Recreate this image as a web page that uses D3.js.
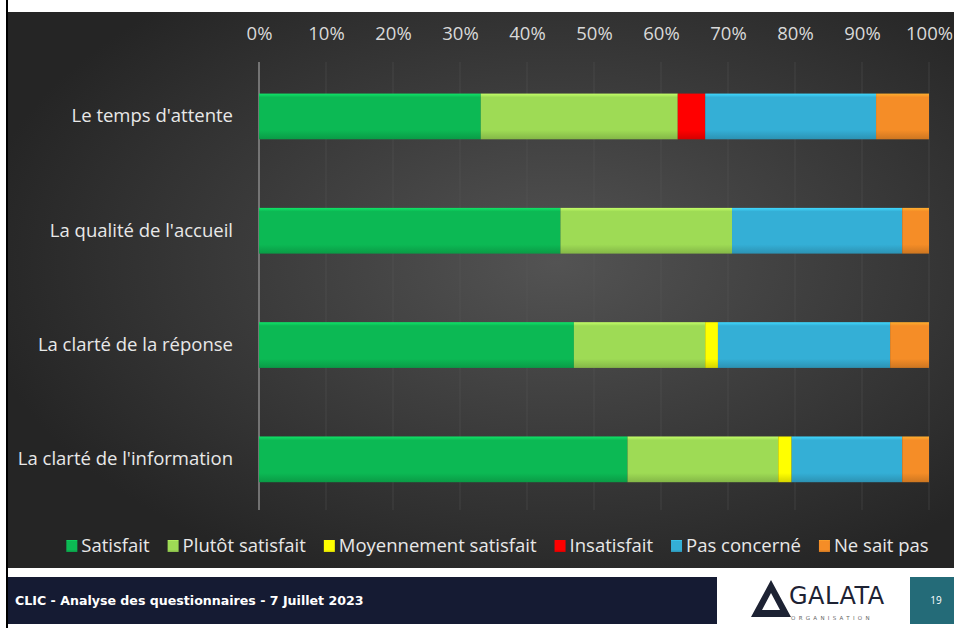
<!DOCTYPE html>
<html>
<head>
<meta charset="utf-8">
<script src="https://cdn.jsdelivr.net/npm/d3@7"></script>
<style>
  html, body { margin: 0; padding: 0; background: #ffffff; }
  svg { display: block; }
</style>
</head>
<body>
<svg id="chart" width="954" height="628"></svg>
<script>
// categories (top to bottom) and legend labels
var categories = ["Le temps d'attente", "La qualité de l'accueil", "La clarté de la réponse", "La clarté de l'information"];
var seriesNames = ["Satisfait", "Plutôt satisfait", "Moyennement satisfait", "Insatisfait", "Pas concerné", "Ne sait pas"];

// percentages per category
var satisfait   = [33.1, 45.0, 47.0, 55.0];
var plutot      = [29.4, 25.6, 19.6, 22.5];
var moyennement = [0, 0, 1.9, 2.0];
var insatisfait = [4.1, 0, 0, 0];
var pasConcerne = [25.5, 25.4, 25.7, 16.5];
var neSaitPas   = [7.9, 4.0, 5.8, 4.0];

var tickValues = [0, 10, 20, 30, 40, 50, 60, 70, 80, 90, 100];

var seriesColors = ["#0cb954", "#9edb55", "#ffff00", "#ff0000", "#34afd6", "#f58d27"];
var font = "'Open Sans', 'Noto Sans', sans-serif";

// build the table the stack layout needs
var allSeries = [satisfait, plutot, moyennement, insatisfait, pasConcerne, neSaitPas];
var table = categories.map(function (c, i) {
  var row = { cat: c };
  seriesNames.forEach(function (s, j) { row[s] = allSeries[j][i]; });
  return row;
});
var stacked = d3.stack().keys(seriesNames)(table);

var svg = d3.select("#chart");
var defs = svg.append("defs");

// dark slide background
var bg = defs.append("radialGradient").attr("id", "bg")
  .attr("cx", "58%").attr("cy", "45%").attr("r", "62%");
bg.append("stop").attr("offset", "0%").attr("stop-color", "#535353");
bg.append("stop").attr("offset", "100%").attr("stop-color", "#252525");

// bar gradients (light top edge, darker bottom)
seriesColors.forEach(function (c, i) {
  var g = defs.append("linearGradient").attr("id", "grad" + i)
    .attr("x1", 0).attr("y1", 0).attr("x2", 0).attr("y2", 1);
  g.append("stop").attr("offset", "0%").attr("stop-color", d3.color(c).brighter(0.6));
  g.append("stop").attr("offset", "8%").attr("stop-color", c);
  g.append("stop").attr("offset", "80%").attr("stop-color", c);
  g.append("stop").attr("offset", "100%").attr("stop-color", d3.color(c).darker(0.5));
});

svg.append("rect").attr("x", 8).attr("y", 12).attr("width", 946).attr("height", 556)
  .attr("fill", "url(#bg)");
svg.append("rect").attr("x", 6).attr("y", 0).attr("width", 2).attr("height", 628)
  .attr("fill", "#000");

// scales
var x = d3.scaleLinear().domain([0, 100]).range([259, 929]);
var y = d3.scaleBand().domain(categories).range([59.3, 516.5])
  .paddingInner(0.6).paddingOuter(0.3);

// gridlines
svg.append("g").selectAll("line")
  .data(tickValues)
  .enter()
  .append("line")
  .attr("x1", function (d) { return x(d); })
  .attr("x2", function (d) { return x(d); })
  .attr("y1", 62)
  .attr("y2", 510)
  .attr("stroke", function (d) { return d === 0 ? "#8a8a8a" : "#5a5a5a"; })
  .attr("stroke-opacity", function (d) { return d === 0 ? 1 : 0.4; })
  .attr("stroke-width", function (d) { return d === 0 ? 1.5 : 1; });

// top axis labels
var xAxis = svg.append("g").attr("transform", "translate(0,40)")
  .call(d3.axisTop(x).tickValues(tickValues).tickSize(0).tickPadding(0)
    .tickFormat(function (d) { return d + "%"; }));
xAxis.select(".domain").remove();
xAxis.selectAll("text")
  .attr("fill", "#d9d9d9")
  .style("font-family", font)
  .style("font-size", "18.5px");

// category labels
var yAxis = svg.append("g").attr("transform", "translate(233,0)")
  .call(d3.axisLeft(y).tickSize(0).tickPadding(0));
yAxis.select(".domain").remove();
yAxis.selectAll("text")
  .attr("fill", "#e8e8e8")
  .style("font-family", font)
  .style("font-size", "18.5px");

// bars
svg.append("g").selectAll("g")
  .data(stacked)
  .enter()
  .append("g")
  .attr("fill", function (d, i) { return "url(#grad" + i + ")"; })
  .selectAll("rect")
  .data(function (d) { return d; })
  .enter()
  .append("rect")
  .attr("x", function (d) { return x(d[0]); })
  .attr("y", function (d) { return y(d.data.cat); })
  .attr("width", function (d) { return x(d[1]) - x(d[0]); })
  .attr("height", y.bandwidth());

// legend
var legend = svg.append("g");
var lx = 0;
seriesNames.forEach(function (s, i) {
  var item = legend.append("g").attr("transform", "translate(" + lx + ",0)");
  item.append("rect").attr("x", 0).attr("y", -6).attr("width", 11).attr("height", 12)
    .attr("fill", "url(#grad" + i + ")");
  var t = item.append("text").attr("x", 15).attr("y", 0).attr("dy", "0.35em")
    .attr("fill", "#e8e8e8")
    .style("font-family", font).style("font-size", "18.5px")
    .text(s);
  lx += 15 + t.node().getComputedTextLength() + 18;
});
legend.attr("transform", "translate(" + (497.5 - (lx - 18) / 2) + ",546)");

// footer
svg.append("rect").attr("x", 8).attr("y", 577).attr("width", 709).attr("height", 47)
  .attr("fill", "#151b33");
svg.append("text").attr("x", 15).attr("y", 605)
  .attr("fill", "#ffffff")
  .style("font-family", "'DejaVu Sans', sans-serif").style("font-weight", "bold")
  .style("font-size", "12.6px")
  .text("CLIC - Analyse des questionnaires - 7 Juillet 2023");

// logo
var logo = svg.append("g");
logo.append("path")
  .attr("d", "M751,617 L771,580 L791,617 Z M762,610 L771,593 L780,610 Z")
  .attr("fill", "#1d2233").attr("fill-rule", "evenodd");
logo.append("text").attr("x", 789).attr("y", 604)
  .attr("fill", "#1d2233")
  .style("font-family", "'DejaVu Sans', sans-serif").style("font-size", "24px")
  .style("letter-spacing", "0.5px")
  .text("GALATA");
logo.append("text").attr("x", 791).attr("y", 620)
  .attr("fill", "#666")
  .style("font-family", "'DejaVu Sans', sans-serif").style("font-size", "5.5px")
  .style("letter-spacing", "3.3px")
  .text("ORGANISATION");

// page number box
svg.append("rect").attr("x", 910).attr("y", 577).attr("width", 44).attr("height", 47)
  .attr("fill", "#246b78");
svg.append("text").attr("x", 936).attr("y", 604).attr("text-anchor", "middle")
  .attr("fill", "#ffffff")
  .style("font-family", font).style("font-size", "10px")
  .text("19");
</script>
</body>
</html>
